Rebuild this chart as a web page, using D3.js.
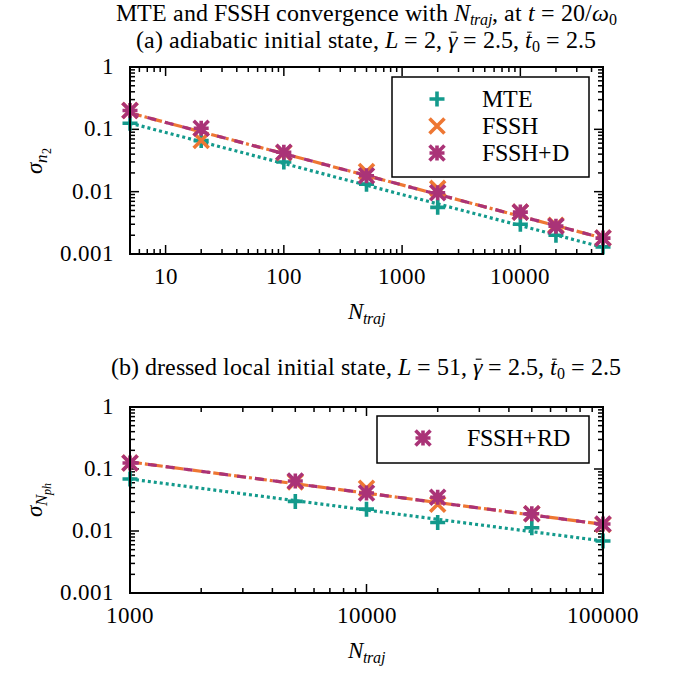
<!DOCTYPE html>
<html>
<head>
<meta charset="utf-8">
<script src="https://cdn.jsdelivr.net/npm/d3@7"></script>
<style>
  @font-face { font-family: "LSerif"; src: local("Liberation Serif"), local("LiberationSerif"); font-style: normal; }
  @font-face { font-family: "LSerif"; src: local("Liberation Serif Italic"), local("LiberationSerif-Italic"); font-style: italic; }
  body { margin: 0; background: #fff; }
  svg text { font-family: "LSerif", "Liberation Serif", "Times New Roman", serif; }
</style>
</head>
<body>
<script>
// panel (a): adiabatic initial state
const nA = [5, 20, 100, 500, 2000, 10000, 20000, 50000];
const mteA = [0.125, 0.066, 0.030, 0.0132, 0.0056, 0.0030, 0.0020, 0.0013];
const fsshA = [0.20, 0.066, 0.042, 0.021, 0.0113, 0.0047, 0.0029, 0.0018];
const fsshdA = [0.20, 0.104, 0.043, 0.018, 0.0096, 0.0047, 0.0028, 0.0018];
// fitted lines, read at the ends of the axis
const fitMteA = [[5, 0.126], [50000, 0.00128]];
const fitFsshA = [[5, 0.183], [50000, 0.0018]];

// panel (b): dressed local initial state
const nB = [1000, 5000, 10000, 20000, 50000, 100000];
const mteB = [0.069, 0.030, 0.0225, 0.0137, 0.0113, 0.0069];
const fsshB = [0.125, 0.062, 0.049, 0.027, 0.019, 0.0127];
const fsshrdB = [0.125, 0.064, 0.041, 0.035, 0.019, 0.013];
const fitMteB = [[1000, 0.069], [100000, 0.0069]];
const fitFsshB = [[1000, 0.13], [100000, 0.0128]];

const yTickLabels = ["0.001", "0.01", "0.1", "1"];

const W = 687, H = 677;
const teal = "#139a8c", orange = "#ee7733", magenta = "#aa3377";
const FS = 23;

const svg = d3.select("body").append("svg")
  .attr("width", W)
  .attr("height", H);

function txt(parent) {
  return parent.append("text").attr("fill", "#000");
}

// parts: [text, italic, shift, size]  shift is baseline offset in px (+ is down)
function mathText(sel, parts) {
  let cur = 0;
  parts.forEach(p => {
    const t = sel.append("tspan").text(p[0]);
    if (p[1]) t.attr("font-style", "italic");
    const shift = p[2] || 0;
    if (shift != cur) { t.attr("dy", shift - cur); cur = shift; }
    if (p[3]) t.attr("font-size", p[3]);
  });
}

function marker(g, type, color, x, y) {
  const s = 7.5;
  let d;
  if (type == "plus") d = `M${x-s},${y}H${x+s}M${x},${y-s}V${y+s}`;
  else if (type == "cross") d = `M${x-s},${y-s}L${x+s},${y+s}M${x-s},${y+s}L${x+s},${y-s}`;
  else d = `M${x-s},${y}H${x+s}M${x},${y-s}V${y+s}M${x-s},${y-s}L${x+s},${y+s}M${x-s},${y+s}L${x+s},${y-s}`;
  g.append("path").attr("d", d)
    .attr("stroke", color).attr("stroke-width", 3.6).attr("fill", "none");
}

function panel(cfg) {
  const g = svg.append("g");
  const x = d3.scaleLog().domain(cfg.xdom).range([130, 603]);
  const y = d3.scaleLog().domain([0.001, 1]).range([cfg.bottom, cfg.top]);

  const isMajor = v => Math.abs(Math.log10(v) - Math.round(Math.log10(v))) < 1e-9;
  const xt = x.ticks().filter(v => v >= cfg.xdom[0] && v <= cfg.xdom[1]);
  const yt = y.ticks();

  // ticks on all four sides, pointing in
  xt.forEach(v => {
    const L = isMajor(v) ? 9 : 5;
    g.append("line").attr("x1", x(v)).attr("x2", x(v)).attr("y1", cfg.bottom).attr("y2", cfg.bottom - L)
      .attr("stroke", "#000").attr("stroke-width", 1.5);
    g.append("line").attr("x1", x(v)).attr("x2", x(v)).attr("y1", cfg.top).attr("y2", cfg.top + L)
      .attr("stroke", "#000").attr("stroke-width", 1.5);
  });
  yt.forEach(v => {
    const L = isMajor(v) ? 9 : 5;
    g.append("line").attr("x1", 130).attr("x2", 130 + L).attr("y1", y(v)).attr("y2", y(v))
      .attr("stroke", "#000").attr("stroke-width", 1.5);
    g.append("line").attr("x1", 603).attr("x2", 603 - L).attr("y1", y(v)).attr("y2", y(v))
      .attr("stroke", "#000").attr("stroke-width", 1.5);
  });

  // tick labels
  xt.filter(isMajor).forEach(d => {
    txt(g).attr("x", x(d)).attr("y", cfg.bottom + 30)
      .attr("text-anchor", "middle").attr("font-size", FS)
      .text(d3.format("d")(d));
  });
  yTickLabels.forEach(d => {
    txt(g).attr("x", 114).attr("y", y(+d) + 7)
      .attr("text-anchor", "end").attr("font-size", FS)
      .text(d);
  });

  // fit lines
  const line = d3.line().x(d => x(d[0])).y(d => y(d[1]));
  g.append("path").attr("d", line(cfg.fitMte)).attr("fill", "none")
    .attr("stroke", teal).attr("stroke-width", 3.2).attr("stroke-dasharray", "3,3");
  g.append("path").attr("d", line(cfg.fitFssh)).attr("fill", "none")
    .attr("stroke", orange).attr("stroke-width", 3.2).attr("stroke-dasharray", "12,3,3,3");
  g.append("path").attr("d", line(cfg.fitFssh)).attr("fill", "none")
    .attr("stroke", magenta).attr("stroke-width", 3.2).attr("stroke-dasharray", "9,9");

  // points
  cfg.n.forEach((v, i) => marker(g, "plus", teal, x(v), y(cfg.mte[i])));
  cfg.n.forEach((v, i) => marker(g, "cross", orange, x(v), y(cfg.fssh[i])));
  cfg.n.forEach((v, i) => marker(g, "star", magenta, x(v), y(cfg.fsshd[i])));

  // frame
  g.append("rect").attr("x", 130).attr("y", cfg.top).attr("width", 473).attr("height", cfg.bottom - cfg.top)
    .attr("fill", "none").attr("stroke", "#000").attr("stroke-width", 2);

  // legend
  const lg = cfg.legend;
  g.append("rect").attr("x", lg.x).attr("y", lg.y).attr("width", lg.w).attr("height", lg.h)
    .attr("fill", "#fff").attr("stroke", "#000").attr("stroke-width", 1.5);
  lg.items.forEach((it, i) => {
    const cy = lg.y + 22 + i * 27;
    marker(g, it[1], it[2], lg.mx, cy);
    txt(g).attr("x", lg.tx).attr("y", cy + 8).attr("font-size", FS + 0.5).text(it[0]);
  });

  // axis titles
  const xl = txt(g).attr("x", 366).attr("y", cfg.bottom + 65)
    .attr("text-anchor", "middle").attr("font-size", FS);
  mathText(xl, [["N", true], ["traj", true, 5, 16]]);
  const yl = txt(g).attr("transform", `translate(42,${(cfg.top + cfg.bottom) / 2}) rotate(-90)`)
    .attr("text-anchor", "middle").attr("font-size", FS);
  mathText(yl, cfg.ylab);
  return g;
}

// bar over a tspan (gamma-bar, t-bar), placed from the glyph box
function charIndex(node, span) {
  let n = 0;
  for (const c of node.childNodes) { if (c === span) return n; n += c.textContent.length; }
  return n;
}
function addBars(textSel) {
  const node = textSel.node();
  textSel.selectAll("tspan.bar").each(function () {
    const b = node.getExtentOfChar(charIndex(node, this));
    svg.append("line")
      .attr("x1", b.x + b.width * 0.3).attr("x2", b.x + b.width * 0.95)
      .attr("y1", b.y + b.height * 0.2).attr("y2", b.y + b.height * 0.2)
      .attr("stroke", "#000").attr("stroke-width", 1.1);
  });
}

function titleLine(yPos, parts) {
  const t = txt(svg).attr("x", 366).attr("y", yPos).attr("text-anchor", "middle").attr("font-size", 23.5);
  mathText(t, parts);
  return t;
}

function draw() {
  svg.selectAll("*").remove();
  titleLine(21, [["MTE and FSSH convergence with "], ["N", true], ["traj", true, 4, 16], [", at "], ["t", true], [" = 20/"], ["ω", true], ["0", false, 4, 16]]);
  const t2 = titleLine(48, [["(a) adiabatic initial state, "], ["L", true], [" = 2, "], ["γ", true], [" = 2.5, "], ["t", true], ["0", false, 4, 16], [" = 2.5"]]);
  const t3 = titleLine(375, [["(b) dressed local initial state, "], ["L", true], [" = 51, "], ["γ", true], [" = 2.5, "], ["t", true], ["0", false, 4, 16], [" = 2.5"]]);

  panel({
    xdom: [5, 50000], top: 67, bottom: 254,
    n: nA, mte: mteA, fssh: fsshA, fsshd: fsshdA, fitMte: fitMteA, fitFssh: fitFsshA,
    ylab: [["σ", true], ["n", true, 5, 17], ["2", false, 9, 12]],
    legend: { x: 392, y: 77, w: 197, h: 100, mx: 437, tx: 482,
      items: [["MTE", "plus", teal], ["FSSH", "cross", orange], ["FSSH+D", "star", magenta]] }
  });
  panel({
    xdom: [1000, 100000], top: 407, bottom: 593,
    n: nB, mte: mteB, fssh: fsshB, fsshd: fsshrdB, fitMte: fitMteB, fitFssh: fitFsshB,
    ylab: [["σ", true], ["N", true, 5, 17], ["ph", true, 9, 12]],
    legend: { x: 377, y: 416, w: 212, h: 47, mx: 423, tx: 467,
      items: [["FSSH+RD", "star", magenta]] }
  });

  // bars last, after everything is laid out
  [t2, t3].forEach(t => {
    t.selectAll("tspan").filter(function () { return this.textContent == "γ" || this.textContent == "t"; })
      .classed("bar", true);
    addBars(t);
  });
}

draw();
document.fonts.ready.then(draw);
</script>
</body>
</html>
